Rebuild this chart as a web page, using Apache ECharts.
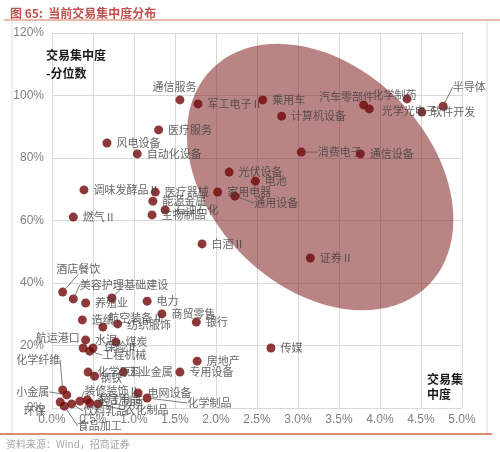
<!DOCTYPE html>
<html>
<head>
    <meta http-equiv="Content-Type" content="text/html; charset=utf-8">
    <title>当前交易集中度分布</title>
    <style>
        html, body { margin: 0; padding: 0; background: #fff; }
        #echarts_main { width: 500px; height: 452px; }
    </style>
</head>
<body>
    <div id="echarts_main"></div>
    <script src="https://cdn.jsdelivr.net/npm/echarts@6/dist/echarts.min.js"></script>
    <script>
        // 行业名称、交易集中度(%)、分位数(%)
        var names = ['通信服务', '军工电子Ⅱ', '乘用车', '计算机设备', '医疗服务', '风电设备', '自动化设备', '消费电子', '通信设备',
            '汽车零部件', '光学光电子', '化学制药', '软件开发', '半导体', '光伏设备', '电池', '家用电器', '通用设备', '医疗器械',
            '调味发酵品Ⅱ', '能源金属', '石油石化', '生物制品', '燃气Ⅱ', '白酒Ⅱ', '证券Ⅱ', '传媒', '酒店餐饮', '美容护理', '基础建设',
            '养殖业', '电力', '商贸零售', '银行', '造纸', '航空装备Ⅱ', '纺织服饰', '水泥', '航运港口', '保险Ⅱ', '煤炭', '工程机械',
            '房地产', '专用设备', '化学原料', '钢铁', '工业金属', '电网设备', '化学制品', '化学纤维', '小金属', '环保', '食品加工',
            '饮料乳品', '装修装饰Ⅱ', '轻工制造', '农化制品', '家居用品'];
        var xVals = [1.56, 1.78, 2.57, 2.80, 1.30, 0.67, 1.04, 3.04, 3.76,
            3.80, 3.87, 4.33, 4.51, 4.77, 2.16, 2.48, 2.02, 2.23, 1.26,
            0.39, 1.23, 1.38, 1.22, 0.26, 1.83, 3.15, 2.67, 0.13, 0.26, 0.73,
            0.41, 1.16, 1.34, 1.76, 0.37, 0.62, 0.80, 0.41, 0.38, 0.50, 0.78, 0.46,
            1.77, 1.56, 0.44, 0.52, 0.87, 1.05, 1.16, 0.13, 0.18, 0.10, 0.15,
            0.24, 0.34, 0.46, 0.56, 0.43];
        var yVals = [98.6, 97.3, 98.6, 93.4, 89.0, 84.8, 81.3, 81.9, 81.3,
            97.0, 95.7, 98.9, 94.7, 96.6, 75.5, 72.6, 69.1, 67.8, 69.1,
            69.8, 66.2, 63.4, 61.8, 61.1, 52.5, 48.0, 19.2, 37.1, 34.9, 35.2,
            33.6, 34.2, 30.1, 27.5, 28.2, 25.9, 26.9, 21.8, 19.2, 19.2, 21.1, 18.2,
            15.0, 11.5, 11.5, 10.2, 11.5, 4.8, 3.2, 5.8, 4.2, 1.9, 0.6,
            1.3, 2.2, 1.6, 1.3, 2.6];
        var xTicks = [0, 0.5, 1, 1.5, 2, 2.5, 3, 3.5, 4, 4.5, 5];
        var yTicks = [0, 20, 40, 60, 80, 100, 120];

        // 标签偏移 [dx, dy, 引线, 位置]
        var labelMove = {
            '通信服务': [-37, -13], '汽车零部件': [-54, -8], '光学光电子': [3, 2], '化学制药': [-44, -4],
            '半导体': [0, -19, true], '消费电子': [7, 0, true], '通用设备': [10, 7, true],
            '酒店餐饮': [-16, -23, true], '美容护理': [-3, -14, true], '基础建设': [3, -13, true],
            '航空装备Ⅱ': [-4, -9], '纺织服饰': [0, 1], '航运港口': [6, -10, false, 'left'], '保险Ⅱ': [2, -1],
            '工程机械': [3, 4, true], '钢铁': [-4, 2], '工业金属': [-4, 0], '化学制品': [31, 5, true],
            '化学纤维': [-56, -30, true], '小金属': [-8, -3, true, 'left'], '环保': [-5, 9, false, 'left'],
            '食品加工': [4, 20, true], '饮料乳品': [2, 7, true], '装修装饰Ⅱ': [-5, -10, true],
            '轻工制造': [0, -2], '农化制品': [17, 6, true], '家居用品': [0, -1]
        };

        // 椭圆标注：中心(数据坐标)、半轴(像素)、倾角
        var ellipseCenter = [3.27, 73.9];
        var ellipseA = 153, ellipseB = 110, ellipseAngle = 45;

        var scatterData = [];
        for (var i = 0; i < names.length; i++) {
            var m = labelMove[names[i]];
            var item = { name: names[i], value: [xVals[i], yVals[i]] };
            if (m && m[3]) { item.label = { position: m[3] }; }
            if (m && m[2]) { item.labelLine = { show: true }; }
            scatterData.push(item);
        }

        var myChart = echarts.init(document.getElementById('echarts_main'));
        var cjk = '"Noto Sans CJK SC", "Noto Sans", sans-serif';

        var option = {
            animation: false,
            title: {
                text: '图 65:  当前交易集中度分布',
                left: 5,
                top: 2,
                textStyle: { color: '#c0504d', fontSize: 12, fontWeight: 'bold', fontFamily: cjk }
            },
            grid: { left: 52, right: 38, top: 33, bottom: 44 },
            xAxis: {
                type: 'value',
                min: xTicks[0],
                max: xTicks[xTicks.length - 1],
                interval: 0.5,
                axisLine: { show: true, lineStyle: { color: '#d9d9d9' } },
                axisTick: { show: false },
                axisLabel: {
                    color: '#7f7f7f', fontSize: 12, margin: 6, fontFamily: 'Arial, "Liberation Sans", sans-serif',
                    formatter: function (v) { return v.toFixed(1) + '%'; }
                },
                splitLine: { show: true, lineStyle: { color: '#d9d9d9', width: 1 } }
            },
            yAxis: {
                type: 'value',
                min: yTicks[0],
                max: yTicks[yTicks.length - 1],
                interval: 20,
                axisLine: { show: true, lineStyle: { color: '#d9d9d9' } },
                axisTick: { show: false },
                axisLabel: {
                    color: '#7f7f7f', fontSize: 12, margin: 8, fontFamily: 'Arial, "Liberation Sans", sans-serif',
                    formatter: function (v) { return v + '%'; }
                },
                splitLine: { show: true, lineStyle: { color: '#d9d9d9', width: 1 } }
            },
            graphic: [
                { type: 'line', silent: true, shape: { x1: 4, y1: 20, x2: 500, y2: 20 }, style: { stroke: '#e2a48c', lineWidth: 1.5 } },
                { type: 'line', silent: true, shape: { x1: 12, y1: 21, x2: 12, y2: 433 }, style: { stroke: '#dcdcdc', lineWidth: 1 } },
                { type: 'line', silent: true, shape: { x1: 487, y1: 21, x2: 487, y2: 433 }, style: { stroke: '#dcdcdc', lineWidth: 1 } },
                { type: 'line', silent: true, shape: { x1: 0, y1: 434, x2: 492, y2: 434 }, style: { stroke: '#d98d74', lineWidth: 2 } },
                {
                    type: 'text', left: 6, top: 439, silent: true,
                    style: { text: '资料来源：Wind，招商证券', fill: '#a6a6a6', fontSize: 10, fontFamily: cjk }
                },
                {
                    type: 'text', left: 46, top: 46, silent: true, z: 10,
                    style: { text: '交易集中度\n-分位数', fill: '#1a1a1a', fontSize: 12, fontWeight: 'bold', lineHeight: 18, fontFamily: cjk }
                },
                {
                    type: 'text', left: 427, top: 372, silent: true, z: 10,
                    style: { text: '交易集\n中度', fill: '#1a1a1a', fontSize: 12, fontWeight: 'bold', lineHeight: 15, fontFamily: cjk }
                }
            ],
            series: [
                {
                    type: 'custom',
                    z: 1,
                    silent: true,
                    data: [ellipseCenter],
                    encode: { x: 0, y: 1 },
                    renderItem: function (params, api) {
                        var c = api.coord([api.value(0), api.value(1)]);
                        var r = ellipseAngle * Math.PI / 180;
                        var pts = [];
                        for (var k = 0; k < 90; k++) {
                            var t = k / 90 * 2 * Math.PI;
                            var ex = ellipseA * Math.cos(t), ey = ellipseB * Math.sin(t);
                            pts.push([c[0] + ex * Math.cos(r) - ey * Math.sin(r), c[1] + ex * Math.sin(r) + ey * Math.cos(r)]);
                        }
                        return {
                            type: 'polygon',
                            shape: { points: pts },
                            style: { fill: 'rgba(120,20,20,0.52)', stroke: 'none' }
                        };
                    }
                },
                {
                    type: 'scatter',
                    z: 3,
                    symbolSize: 9,
                    itemStyle: { color: '#720707' },
                    label: {
                        show: true,
                        position: 'right',
                        distance: 5,
                        formatter: '{b}',
                        color: '#404040',
                        fontSize: 11,
                        fontFamily: cjk
                    },
                    labelLine: { show: false, lineStyle: { color: '#595959', width: 0.8 } },
                    labelLayout: function (p) {
                        var m = labelMove[names[p.dataIndex]];
                        if (!m) { return {}; }
                        return { dx: m[0], dy: m[1] };
                    },
                    data: scatterData
                }
            ]
        };

        myChart.setOption(option);
    </script>
</body>
</html>
